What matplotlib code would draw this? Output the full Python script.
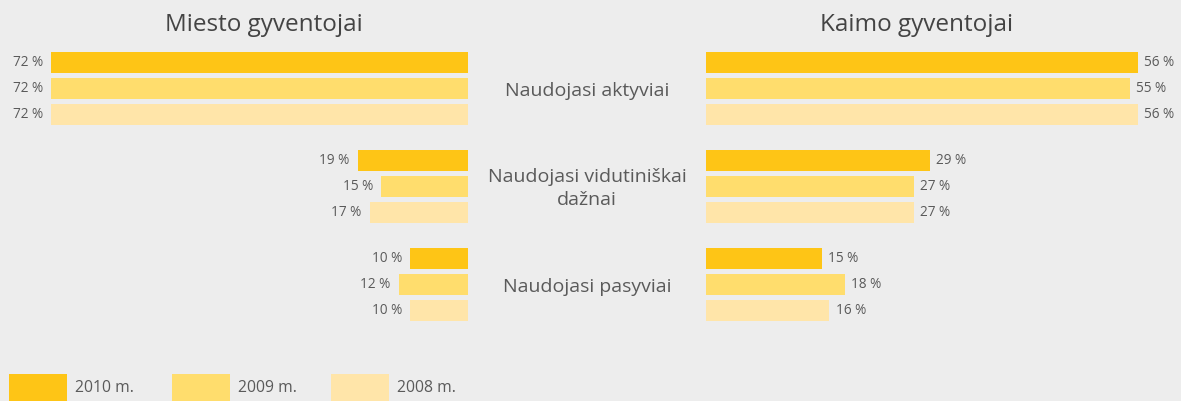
#!/usr/bin/env python3
import matplotlib
matplotlib.use("Agg")
import matplotlib.pyplot as plt
from matplotlib.patches import Rectangle

plt.rcParams["font.family"] = ["Open Sans", "DejaVu Sans"]

categories = ["Naudojasi aktyviai", "Naudojasi vidutiniškai\ndažnai", "Naudojasi pasyviai"]
years = ["2010 m.", "2009 m.", "2008 m."]
colors = ["#FEC516", "#FFDD6D", "#FFE5A9"]

# values per category, in order 2010, 2009, 2008
miesto = [[72, 72, 72], [19, 15, 17], [10, 12, 10]]
kaimo = [[56, 55, 56], [29, 27, 27], [15, 18, 16]]

W, H = 1181, 401
BG = "#EDEDED"
TXT = "#5A5A5A"

fig = plt.figure(figsize=(W / 100, H / 100), dpi=100, facecolor=BG)

# y: one unit = one bar slot (26 px), first bar centre 62.5 px from top
ytop = -62.5 / 26
ybot = (H - 62.5) / 26
group_step = 3.77

def ypos(g, j):
    return g * group_step + j

axl = fig.add_axes([0, 0, 468 / W, 1])
axl.set_xlim(468 / 5.79, 0)
axr = fig.add_axes([706 / W, 0, (W - 706) / W, 1])
axr.set_xlim(0, (W - 706) / 7.71)

for ax, data, side in [(axl, miesto, "left"), (axr, kaimo, "right")]:
    ax.set_ylim(ybot, ytop)
    ax.set_facecolor("none")
    ax.axis("off")
    for g, vals in enumerate(data):
        for j, v in enumerate(vals):
            y = ypos(g, j)
            ax.barh(y, v, height=21 / 26, color=colors[j], linewidth=0)
            if side == "left":
                ax.annotate(f"{v} %", (v, y), xytext=(-6, 0), textcoords="offset points",
                            ha="right", va="center", fontsize=9.8, color=TXT)
            else:
                ax.annotate(f"{v} %", (v, y), xytext=(4.5, 0), textcoords="offset points",
                            ha="left", va="center", fontsize=9.8, color=TXT)

# category labels in the middle
for g, cat in enumerate(categories):
    yc = ypos(g, 1)
    ypix = 62.5 + yc * 26 + 2
    fig.text(587 / W, 1 - ypix / H, cat, ha="center", va="center",
             fontsize=14, color=TXT, linespacing=1.3)

fig.text(264 / W, 1 - 25 / H, "Miesto gyventojai", ha="center", va="center",
         fontsize=17.5, color="#444444")
fig.text(917 / W, 1 - 25 / H, "Kaimo gyventojai", ha="center", va="center",
         fontsize=17.5, color="#444444")

# legend
leg_x = [9, 172, 331]
for x, c, lab in zip(leg_x, colors, years):
    fig.patches.append(Rectangle((x / W, 0), 58 / W, 27 / H, transform=fig.transFigure,
                                 color=c, linewidth=0))
    fig.text((x + 66) / W, 1 - 388 / H, lab, ha="left", va="center",
             fontsize=11.3, color=TXT)

fig.savefig("out.png", dpi=100, facecolor=BG)
